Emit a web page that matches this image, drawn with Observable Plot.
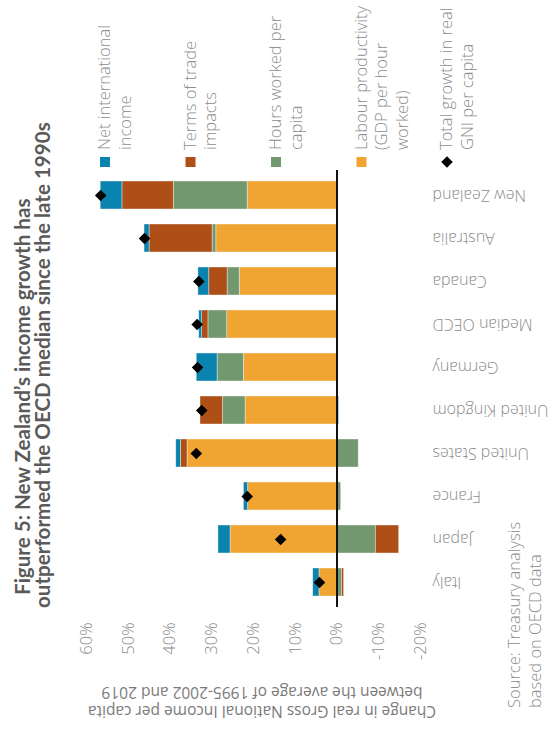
<!DOCTYPE html>
<html>
<head>
<meta charset="utf-8">
<script src="https://cdn.jsdelivr.net/npm/d3@7"></script>
<script src="https://cdn.jsdelivr.net/npm/@observablehq/plot@0.6"></script>
<style>
  html, body { margin: 0; padding: 0; background: #ffffff; }
  #chart { width: 558px; height: 731px; }
</style>
</head>
<body>
<div id="chart"></div>
<script>
// Countries, top to bottom
const countries = ["New Zealand", "Australia", "Canada", "Median OECD", "Germany",
  "United Kingdom", "United States", "France", "Japan", "Italy"];

// Contributions to real GNI per capita growth (percentage points)
const labourProductivity = [21.4, 28.9, 23.3, 26.3, 22.3, 21.9, 35.8, 21.3, 25.5, 4.2];
const hoursWorked        = [17.7, 0.9, 2.9, 4.5, 6.3, 5.4, -5.2, -1.0, -9.3, -1.2];
const termsOfTrade       = [12.3, 15.1, 4.4, 1.5, 0.0, 5.4, 1.6, 0.0, -5.6, -0.5];
const netInternational   = [5.2, 1.2, 2.6, 0.7, 5.0, -0.5, 1.1, 1.0, 2.9, 1.5];

// Total growth in real GNI per capita (%)
const totalGrowth = [56.6, 46.1, 33.1, 33.5, 33.4, 32.4, 33.7, 21.5, 13.5, 4.2];

// Stack order, outward from zero
const components = ["Labour productivity", "Hours worked per capita", "Terms of trade impacts", "Net international income"];
const componentColors = ["#f0a431", "#729870", "#ae4f17", "#0a84ae"];

const xTicks = [60, 50, 40, 30, 20, 10, 0, -10, -20];

// Legend entries, left to right (line-broken labels)
const legendLabels = [
  ["Net international", "income"],
  ["Terms of trade", "impacts"],
  ["Hours worked per", "capita"],
  ["Labour productivity", "(GDP per hour", "worked)"],
  ["Total growth in real", "GNI per capita"]
];
const legendColors = ["#0a84ae", "#ae4f17", "#729870", "#f0a431", null];

const titleLines = ["Figure 5: New Zealand\u2019s income growth has",
  "outperformed the OECD median since the late 1990s"];
const axisTitleLines = ["Change in real Gross National Income per capita",
  "between the average of 1995-2002 and 2019"];
const sourceLines = ["Source: Treasury analysis", "based on OECD data"];

const series = [labourProductivity, hoursWorked, termsOfTrade, netInternational];
const rows = countries.flatMap((country, i) =>
  components.map((component, j) => ({country, component, value: series[j][i]}))
);
const totals = countries.map((country, i) => ({country, total: totalGrowth[i]}));

const grey = "#8c8c8c";
const lightFont = "'Open Sans', Lato, sans-serif";

const chart = Plot.plot({
  width: 558,
  height: 731,
  marginTop: 170,
  marginBottom: 124,
  marginLeft: 86,
  marginRight: 138,
  style: {background: "#ffffff", fontFamily: lightFont},
  x: {domain: [-20, 60], reverse: true, axis: null},
  y: {domain: countries, paddingInner: 0.35, paddingOuter: 0.17, axis: null},
  color: {domain: components, range: componentColors},
  marks: [
    Plot.barX(rows, Plot.stackX({
      y: "country", x: "value", fill: "component",
      stroke: "#ffffff", strokeWidth: 0.7, strokeOpacity: 0.55
    })),
    Plot.ruleX([0], {stroke: "#111111", strokeWidth: 2}),
    Plot.dot(totals, {x: "total", y: "country", symbol: "diamond2", r: 5.2, fill: "#000000", stroke: "none"}),
    // percentage tick labels, reading bottom to top
    Plot.text(xTicks, {
      x: d => d, text: d => `${d}%`, frameAnchor: "bottom", dy: 15,
      rotate: -90, textAnchor: "end", lineAnchor: "middle",
      fill: grey, fontSize: 16.5, fontWeight: 300
    }),
    // country labels, upside down
    Plot.text(countries, {
      y: d => d, text: d => d, frameAnchor: "right", dx: 12,
      rotate: 180, textAnchor: "end", lineAnchor: "middle",
      fill: grey, fontSize: 16, fontWeight: 300
    })
  ]
});

document.getElementById("chart").appendChild(chart);

const svg = d3.select(chart);

// Title, reading bottom to top
const titleG = svg.append("g")
  .attr("fill", "#5a5a5a")
  .attr("font-family", "Lato, sans-serif")
  .attr("font-weight", 700)
  .attr("font-size", 20.6);
[[30, 595], [50, 608]].forEach(([bx, by], k) => {
  titleG.append("text")
    .attr("transform", `translate(${bx},${by}) rotate(-90)`)
    .attr("text-anchor", "start")
    .text(titleLines[k]);
});

// Legend
const legendG = svg.append("g")
  .attr("fill", grey)
  .attr("font-family", lightFont)
  .attr("font-weight", 300)
  .attr("font-size", 16.5);
legendLabels.forEach((lines, i) => {
  const x0 = 100 + i * 85.5;
  if (legendColors[i]) {
    legendG.append("rect")
      .attr("x", x0).attr("y", 157).attr("width", 10).attr("height", 10)
      .attr("fill", legendColors[i]);
  } else {
    legendG.append("path")
      .attr("d", d3.symbol(d3.symbolDiamond2, 5.2 * 5.2 * Math.PI)())
      .attr("transform", `translate(${x0 + 5},162)`)
      .attr("fill", "#000000");
  }
  lines.forEach((line, k) => {
    legendG.append("text")
      .attr("transform", `translate(${x0 + 10 + k * 20.5},150) rotate(-90)`)
      .attr("text-anchor", "start")
      .text(line);
  });
});

// Source note
const sourceG = svg.append("g")
  .attr("fill", grey)
  .attr("font-family", lightFont)
  .attr("font-weight", 300)
  .attr("font-size", 16.5);
sourceLines.forEach((line, k) => {
  sourceG.append("text")
    .attr("transform", `translate(${520 + k * 20.5},708) rotate(-90)`)
    .attr("text-anchor", "start")
    .text(line);
});

// Value axis title, upside down
const axisG = svg.append("g")
  .attr("fill", "#7a7a7a")
  .attr("font-family", "'Open Sans', sans-serif")
  .attr("font-weight", 400)
  .attr("font-size", 15.5);
axisTitleLines.forEach((line, k) => {
  axisG.append("text")
    .attr("transform", `translate(262,${706 - k * 19}) rotate(180)`)
    .attr("text-anchor", "middle")
    .text(line);
});
</script>
</body>
</html>
